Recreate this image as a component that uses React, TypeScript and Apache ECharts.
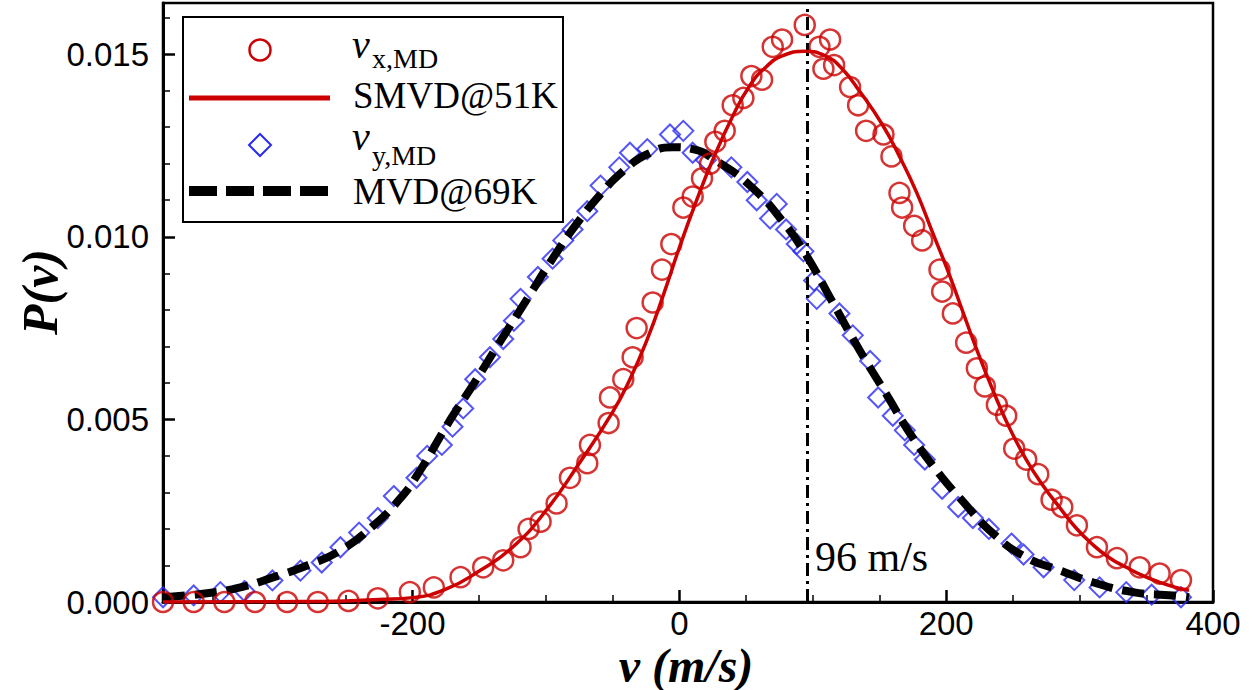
import React, { useEffect, useRef } from "react";
import * as echarts from "echarts";

// SMVD@51K fitted curve (red solid)
const redLineV = [-387, -300, -250, -225, -200, -175, -150, -125, -100, -75, -50, -37, -24, -12, 0, 13, 25, 40, 53, 65, 77, 94, 110, 122, 135, 152, 165, 178, 190, 202, 210, 222, 235, 247, 260, 272, 285, 297, 309, 322, 335, 347, 360, 372, 382];
const redLineP = [0, 0.00001, 0.00003, 0.00007, 0.00012, 0.00035, 0.00085, 0.0015, 0.0025, 0.0038, 0.0052, 0.0061, 0.0072, 0.0084, 0.0097, 0.011, 0.0121, 0.0133, 0.01415, 0.01465, 0.01495, 0.01508, 0.01494, 0.0146, 0.01399, 0.01308, 0.0122, 0.0112, 0.0101, 0.009, 0.0082, 0.007, 0.0058, 0.0048, 0.0039, 0.00322, 0.00259, 0.00204, 0.0016, 0.00122, 0.00095, 0.00073, 0.00054, 0.0004, 0.00032];

// v_x,MD (red circles)
const redPtsV = [-387, -364, -341, -318, -294, -271, -248, -226, -202, -184, -164, -147, -132, -119, -113, -104, -92, -82, -69, -67, -53, -52, -42, -35, -32, -20, -13, -6, 3, 10, 17, 23, 27, 34, 40, 48, 54, 62, 70, 77, 94, 105, 108, 113, 116, 128, 134, 140, 153, 159, 165, 167, 176, 182, 195, 197, 205, 215, 223, 229, 238, 245, 251, 260, 269, 279, 287, 298, 313, 328, 345, 360, 376];
const redPtsP = [0, 0, 0, 0, 0, 0, 0.00003, 0.0001, 0.00027, 0.0004, 0.00068, 0.00095, 0.00114, 0.0015, 0.002, 0.0022, 0.0027, 0.0034, 0.0038, 0.0043, 0.0049, 0.0056, 0.0061, 0.0067, 0.0075, 0.0082, 0.0091, 0.0098, 0.0108, 0.0111, 0.0116, 0.012, 0.0126, 0.0129, 0.0136, 0.0138, 0.0144, 0.0143, 0.0152, 0.0154, 0.0158, 0.0152, 0.0146, 0.0154, 0.0147, 0.0141, 0.0136, 0.0129, 0.0128, 0.0122, 0.0112, 0.0108, 0.0103, 0.0099, 0.0091, 0.0085, 0.0079, 0.0071, 0.0064, 0.0059, 0.0054, 0.0051, 0.0042, 0.0039, 0.0035, 0.0028, 0.0026, 0.0021, 0.0015, 0.0012, 0.00095, 0.00078, 0.0006];

// MVD@69K fitted curve (black dashed)
const blackLineV = [-387, -354, -329, -304, -279, -254, -229, -210, -196, -172, -154, -134, -114, -95, -77, -59, -42, -24, -5, 10, 28, 53, 78, 95, 115, 135, 155, 175, 195, 210, 235, 260, 285, 310, 340, 370, 382];
const blackLineP = [0.00013, 0.00024, 0.0004, 0.00068, 0.001, 0.00141, 0.0021, 0.0028, 0.0035, 0.00497, 0.00598, 0.00715, 0.0083, 0.0094, 0.01035, 0.01117, 0.0118, 0.01226, 0.01245, 0.0124, 0.01207, 0.0114, 0.0104, 0.0095, 0.0082, 0.0069, 0.0057, 0.0045, 0.0035, 0.00286, 0.00188, 0.00122, 0.00087, 0.00054, 0.00027, 0.00018, 0.00013];

// v_y,MD (blue diamonds)
const bluePtsV = [-387, -364, -344, -326, -305, -284, -268, -254, -240, -226, -214, -197, -189, -178, -170, -162, -153, -142, -132, -124, -119, -106, -95, -87, -80, -69, -59, -45, -37, -24, -7, 3, 10, 20, 39, 51, 58, 68, 73, 80, 88, 93, 101, 103, 120, 130, 143, 149, 160, 169, 176, 184, 197, 209, 220, 232, 249, 258, 273, 296, 315, 335, 354, 376];
const bluePtsP = [0.00013, 0.00018, 0.00027, 0.0003, 0.00059, 0.00086, 0.00108, 0.0015, 0.0019, 0.0023, 0.0029, 0.0034, 0.004, 0.0043, 0.0048, 0.0053, 0.0061, 0.0067, 0.0072, 0.0077, 0.0083, 0.0089, 0.0094, 0.0099, 0.0102, 0.0107, 0.0114, 0.0119, 0.0123, 0.0124, 0.0128, 0.0129, 0.0123, 0.0121, 0.0119, 0.0115, 0.011, 0.0105, 0.0109, 0.0102, 0.0098, 0.0096, 0.0088, 0.0083, 0.0079, 0.0073, 0.0066, 0.0056, 0.0051, 0.0047, 0.0043, 0.0039, 0.0031, 0.0026, 0.0023, 0.002, 0.0016, 0.0013, 0.00095, 0.0006, 0.0004, 0.00027, 0.0002, 0.00013];

const xMajorTicks = [-200, 0, 200, 400];
const xMinorTicks = [-350, -300, -250, -150, -100, -50, 50, 100, 150, 250, 300, 350];
const yMajorTicks = [0, 0.005, 0.01, 0.015];
const yMinorTicks = [0.001, 0.002, 0.003, 0.004, 0.006, 0.007, 0.008, 0.009, 0.011, 0.012, 0.013, 0.014, 0.016];
const peakSpeed = 96;
const peakLabel = "96 m/s";

const RED = "#cc0000";
const BLUE = "#2a2af5";
const SANS = "'Liberation Sans', Arial, sans-serif";
const SERIF = "'Liberation Serif', 'Times New Roman', serif";

const zip = (a: number[], b: number[]) => a.map((v, i) => [v, b[i]]);

export default function App() {
  const ref = useRef<HTMLDivElement>(null);
  useEffect(() => {
    const chart = echarts.init(ref.current!, null, { renderer: "svg" });
    const baseAxisX = { type: "value", min: -387, max: 400, gridIndex: 0 };
    const baseAxisY = { type: "value", min: 0, max: 0.0164, gridIndex: 0 };
    chart.setOption({
      animation: false,
      backgroundColor: "#fff",
      grid: {
        left: 163, top: 3, right: 46, bottom: 88,
        show: true, borderColor: "#000", borderWidth: 2.5, backgroundColor: "transparent",
      },
      xAxis: [
        {
          ...baseAxisX,
          position: "bottom",
          axisLine: { show: true, onZero: false, lineStyle: { color: "#000", width: 3 } },
          axisTick: { show: true, inside: true, length: 12, customValues: xMajorTicks, lineStyle: { color: "#000", width: 2.5 } },
          axisLabel: { show: true, customValues: xMajorTicks, margin: 6, fontSize: 33, lineHeight: 30, fontFamily: SANS, color: "#000" },
          splitLine: { show: false },
        },
        {
          ...baseAxisX,
          position: "bottom",
          axisLine: { show: false, onZero: false },
          axisTick: { show: true, inside: true, length: 7, customValues: xMinorTicks, lineStyle: { color: "#000", width: 1.5 } },
          axisLabel: { show: false },
          splitLine: { show: false },
        },
      ],
      yAxis: [
        {
          ...baseAxisY,
          position: "left",
          axisLine: { show: true, onZero: false, lineStyle: { color: "#000", width: 3 } },
          axisTick: { show: true, inside: true, length: 12, customValues: yMajorTicks, lineStyle: { color: "#000", width: 2.5 } },
          axisLabel: {
            show: true, customValues: yMajorTicks, margin: 14, fontSize: 33, fontFamily: SANS, color: "#000",
            formatter: (v: number) => v.toFixed(3),
          },
          splitLine: { show: false },
        },
        {
          ...baseAxisY,
          position: "left",
          axisLine: { show: false, onZero: false },
          axisTick: { show: true, inside: true, length: 7, customValues: yMinorTicks, lineStyle: { color: "#000", width: 1.5 } },
          axisLabel: { show: false },
          splitLine: { show: false },
        },
      ],
      series: [
        {
          name: "v_y,MD", type: "scatter", silent: true, data: zip(bluePtsV, bluePtsP),
          symbol: "diamond", symbolSize: 20,
          itemStyle: { color: "rgba(0,0,0,0)", borderColor: BLUE, borderWidth: 2 },
          z: 2,
        },
        {
          name: "MVD@69K", type: "line", silent: true, data: zip(blackLineV, blackLineP),
          showSymbol: false, smooth: 0.5,
          lineStyle: { color: "#000", width: 8, type: [22, 10], cap: "butt" },
          z: 3,
        },
        {
          name: "v_x,MD", type: "scatter", silent: true, data: zip(redPtsV, redPtsP),
          symbol: "circle", symbolSize: 20,
          itemStyle: { color: "rgba(0,0,0,0)", borderColor: RED, borderWidth: 2.5 },
          z: 4,
        },
        {
          name: "SMVD@51K", type: "line", silent: true, data: zip(redLineV, redLineP),
          showSymbol: false, smooth: 0.5,
          lineStyle: { color: RED, width: 3.5 },
          z: 5,
          markLine: {
            silent: true, symbol: "none", animation: false,
            label: { show: false },
            lineStyle: { color: "#000", width: 3, type: [13, 5, 3, 5] },
            data: [{ xAxis: peakSpeed }],
          },
        },
      ],
      graphic: [
        { type: "text", x: 686, y: 665, style: { text: "v (m/s)", fontSize: 48, fontFamily: SERIF, fontStyle: "italic", fontWeight: "bold", fill: "#000", align: "center", verticalAlign: "middle" } },
        { type: "text", x: 40, y: 292, rotation: Math.PI / 2, style: { text: "P(v)", fontSize: 50, fontFamily: SERIF, fontStyle: "italic", fontWeight: "bold", fill: "#000", align: "center", verticalAlign: "middle" } },
        { type: "text", x: 815, y: 557, style: { text: peakLabel, fontSize: 42, fontFamily: SERIF, fill: "#000", align: "left", verticalAlign: "middle" } },
        {
          type: "group", z: 100,
          children: [
            { type: "rect", shape: { x: 183, y: 17, width: 380, height: 205 }, style: { fill: "#fff", stroke: "#000", lineWidth: 2 } },
            { type: "circle", shape: { cx: 260, cy: 50, r: 10.5 }, style: { fill: "none", stroke: RED, lineWidth: 2.5 } },
            { type: "line", shape: { x1: 189, y1: 98, x2: 330, y2: 98 }, style: { stroke: RED, lineWidth: 5 } },
            { type: "polygon", shape: { points: [[260, 134], [271, 145], [260, 156], [249, 145]] }, style: { fill: "none", stroke: BLUE, lineWidth: 2 } },
            { type: "line", shape: { x1: 189, y1: 191, x2: 330, y2: 191 }, style: { stroke: "#000", lineWidth: 10, lineDash: [28, 9] } },
            { type: "text", x: 352, y: 44, style: { text: "v", fontSize: 40, fontFamily: SERIF, fontStyle: "italic", fill: "#000", verticalAlign: "middle" } },
            { type: "text", x: 372, y: 58, style: { text: "x,MD", fontSize: 28, fontFamily: SERIF, fill: "#000", verticalAlign: "middle" } },
            { type: "text", x: 353, y: 95, style: { text: "SMVD@51K", fontSize: 37, fontFamily: SERIF, fill: "#000", verticalAlign: "middle" } },
            { type: "text", x: 352, y: 136, style: { text: "v", fontSize: 40, fontFamily: SERIF, fontStyle: "italic", fill: "#000", verticalAlign: "middle" } },
            { type: "text", x: 372, y: 155, style: { text: "y,MD", fontSize: 28, fontFamily: SERIF, fill: "#000", verticalAlign: "middle" } },
            { type: "text", x: 353, y: 191, style: { text: "MVD@69K", fontSize: 37, fontFamily: SERIF, fill: "#000", verticalAlign: "middle" } },
          ],
        },
      ],
    });
    return () => chart.dispose();
  }, []);
  return <div ref={ref} style={{ position: "fixed", left: 0, top: 0, width: 1259, height: 690, background: "#fff" }} />;
}
